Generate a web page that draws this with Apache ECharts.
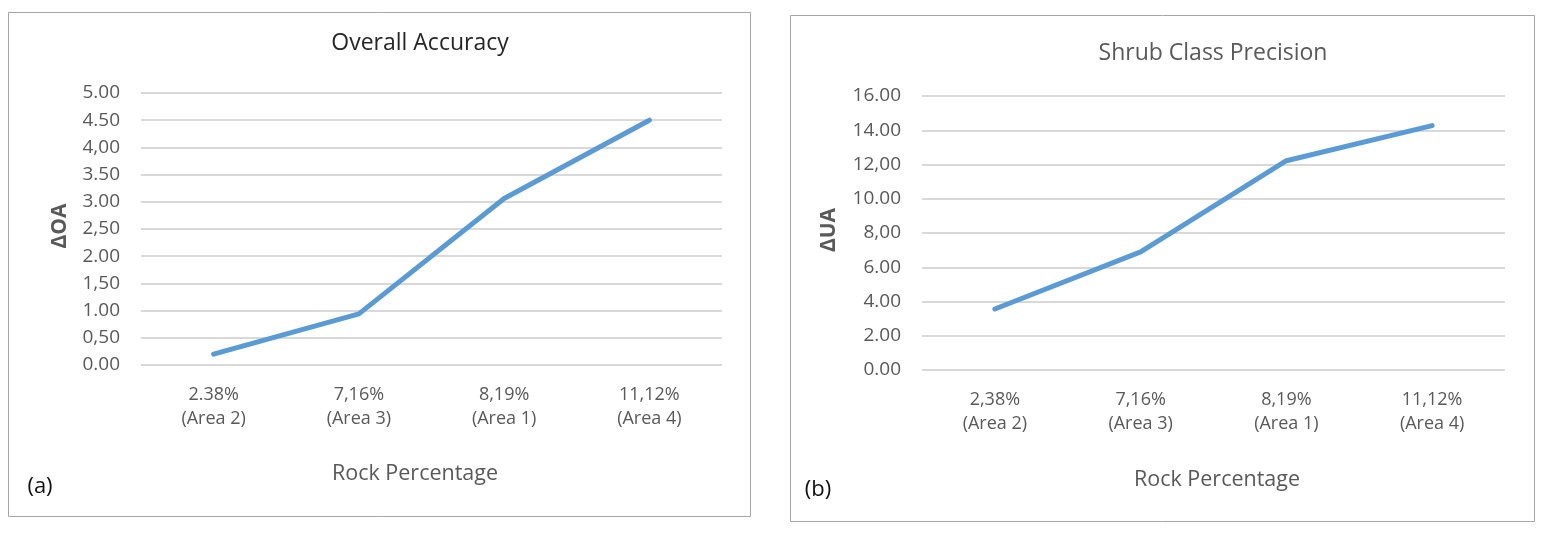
<!DOCTYPE html>
<html><head><meta charset="utf-8">
<script src="https://cdn.jsdelivr.net/npm/echarts@6/dist/echarts.min.js"></script>
<style>html,body{margin:0;padding:0;background:#fff}#c{width:1543px;height:533px}</style>
</head><body><div id="c"></div>
<script>
// Data
const catsA = ["2.38%\n(Area 2)", "7,16%\n(Area 3)", "8,19%\n(Area 1)", "11,12%\n(Area 4)"];
const catsB = ["2,38%\n(Area 2)", "7,16%\n(Area 3)", "8,19%\n(Area 1)", "11,12%\n(Area 4)"];
const valuesOA = [0.20, 0.94, 3.06, 4.50];
const valuesUA = [3.56, 6.90, 12.22, 14.27];
const ticksA = ["0.00","0,50","1.00","1,50","2.00","2,50","3.00","3.50","4,00","4.50","5.00"];
const ticksB = ["0.00","2.00","4.00","6.00","8,00","10.00","12,00","14.00","16.00"];
const titleA = "Overall Accuracy";
const titleB = "Shrub Class Precision";
const yNameA = "ΔOA";
const yNameB = "ΔUA";
const xName = "Rock Percentage";

const FF = "'Open Sans', sans-serif";
const GRAY = '#595959';
const chart = echarts.init(document.getElementById('c'), null, {renderer: 'canvas'});

function yAxis(gi, max, interval, ticks) {
  return {
    type: 'value', gridIndex: gi, min: 0, max: max, interval: interval,
    axisLine: {show: false}, axisTick: {show: false},
    splitLine: {lineStyle: {color: '#d9d9d9', width: 2}},
    axisLabel: {
      color: GRAY, fontFamily: FF, fontSize: 19, margin: 21,
      formatter: function (v) { return ticks[Math.round(v / interval)]; }
    }
  };
}
function xAxis(gi, cats) {
  return {
    type: 'category', gridIndex: gi, data: cats, boundaryGap: true,
    axisLine: {show: false}, axisTick: {show: false},
    axisLabel: {color: GRAY, fontFamily: FF, fontSize: 18, lineHeight: 24, margin: 18}
  };
}
const lineStyle = {color: '#5B9BD5', width: 5, cap: 'round', join: 'round'};

chart.setOption({
  animation: false,
  title: [
    {text: titleA, left: 415, top: 27, textAlign: 'center',
     textStyle: {fontFamily: FF, fontSize: 23, fontWeight: 'normal', color: '#262626'}},
    {text: titleB, left: 1208, top: 37, textAlign: 'center',
     textStyle: {fontFamily: FF, fontSize: 23, fontWeight: 'normal', color: GRAY}}
  ],
  grid: [
    {left: 141, right: 1543 - 722, top: 93, bottom: 533 - 365},
    {left: 922, right: 1543 - 1505, top: 96, bottom: 533 - 370}
  ],
  xAxis: [xAxis(0, catsA), xAxis(1, catsB)],
  yAxis: [yAxis(0, 5, 0.5, ticksA), yAxis(1, 16, 2, ticksB)],
  series: [
    {type: 'line', xAxisIndex: 0, yAxisIndex: 0, data: valuesOA, symbol: 'none', lineStyle: lineStyle},
    {type: 'line', xAxisIndex: 1, yAxisIndex: 1, data: valuesUA, symbol: 'none', lineStyle: lineStyle}
  ],
  graphic: [
    {type: 'rect', shape: {x: 8.5, y: 12.5, width: 742, height: 504}, style: {fill: 'none', stroke: '#a6a6a6', lineWidth: 1}},
    {type: 'rect', shape: {x: 790.5, y: 15.5, width: 744, height: 506}, style: {fill: 'none', stroke: '#a6a6a6', lineWidth: 1}},
    {type: 'text', x: 60, y: 226, rotation: Math.PI / 2,
     style: {text: yNameA, fontFamily: FF, fontSize: 21, fontWeight: 'bold', fill: GRAY, align: 'center', verticalAlign: 'middle'}},
    {type: 'text', x: 829, y: 230, rotation: Math.PI / 2,
     style: {text: yNameB, fontFamily: FF, fontSize: 21, fontWeight: 'bold', fill: GRAY, align: 'center', verticalAlign: 'middle'}},
    {type: 'text', x: 415, y: 474,
     style: {text: xName, fontFamily: FF, fontSize: 21.5, fill: GRAY, align: 'center', verticalAlign: 'middle'}},
    {type: 'text', x: 1217, y: 480,
     style: {text: xName, fontFamily: FF, fontSize: 21.5, fill: GRAY, align: 'center', verticalAlign: 'middle'}},
    {type: 'text', x: 40, y: 487,
     style: {text: '(a)', fontFamily: FF, fontSize: 22, fill: '#111', align: 'center', verticalAlign: 'middle'}},
    {type: 'text', x: 818, y: 490,
     style: {text: '(b)', fontFamily: FF, fontSize: 22, fill: '#111', align: 'center', verticalAlign: 'middle'}}
  ]
});
</script></body></html>
